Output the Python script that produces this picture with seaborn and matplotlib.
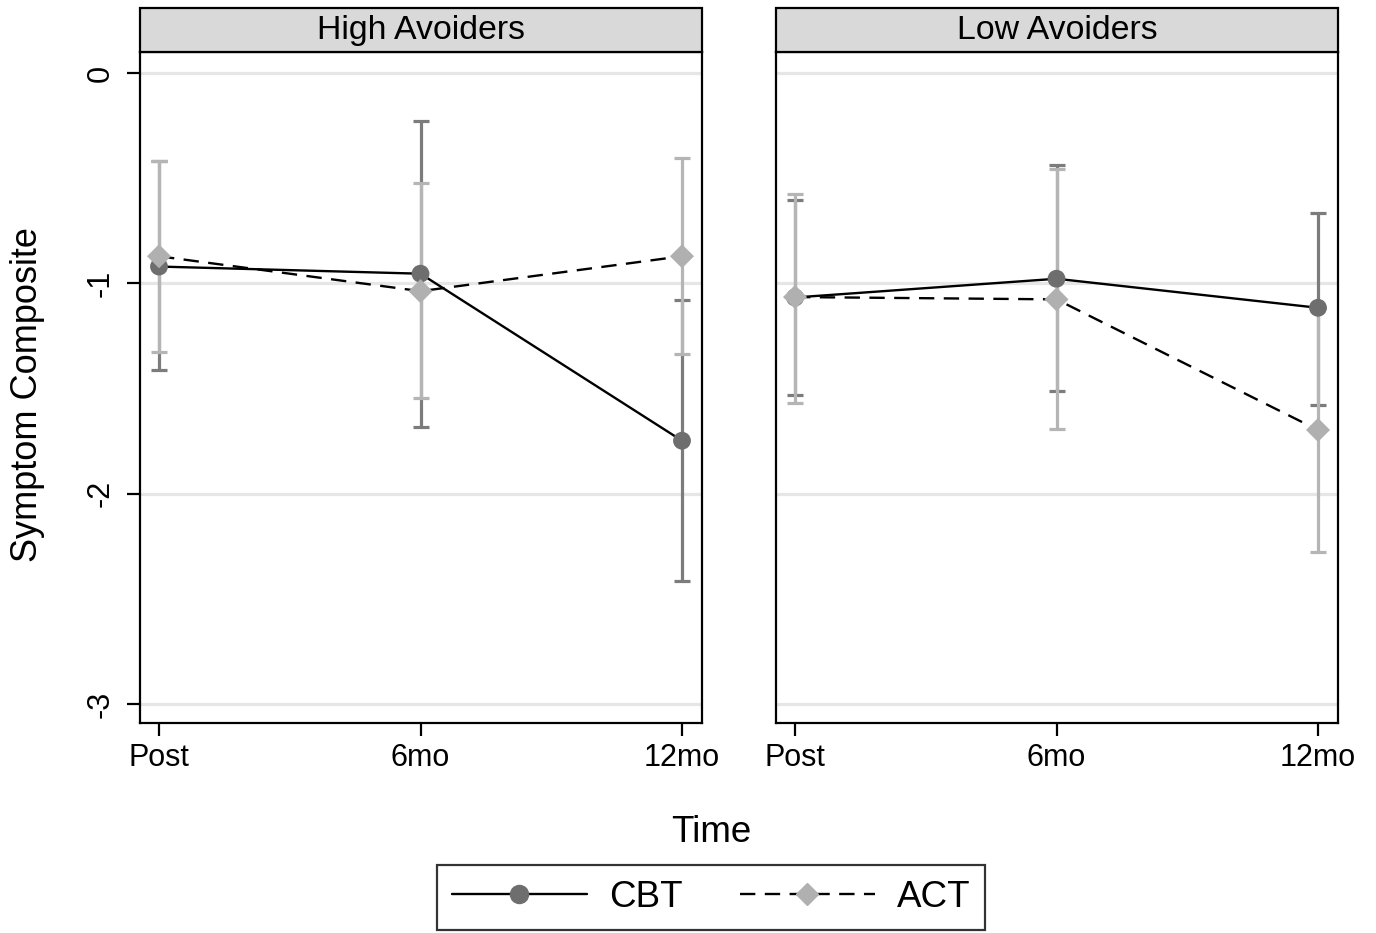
import matplotlib
matplotlib.use("Agg")
import matplotlib.pyplot as plt
from matplotlib.lines import Line2D
from matplotlib.patches import Rectangle
import seaborn as sns
import pandas as pd

# ---------------- data ----------------
times = ["Post", "6mo", "12mo"]
panels = ["High Avoiders", "Low Avoiders"]
treatments = ["CBT", "ACT"]

high_cbt_mean = [-0.920, -0.954, -1.748]
high_cbt_lo = [-1.414, -1.684, -2.414]
high_cbt_hi = [-0.420, -0.227, -1.081]

high_act_mean = [-0.871, -1.037, -0.871]
high_act_lo = [-1.324, -1.545, -1.335]
high_act_hi = [-0.420, -0.525, -0.406]

low_cbt_mean = [-1.067, -0.978, -1.116]
low_cbt_lo = [-1.533, -1.513, -1.576]
low_cbt_hi = [-0.602, -0.438, -0.665]

low_act_mean = [-1.065, -1.076, -1.697]
low_act_lo = [-1.568, -1.692, -2.279]
low_act_hi = [-0.573, -0.454, -1.115]

y_ticks = [0, -1, -2, -3]

rows = []
for panel, tr, m, lo, hi in [
    ("High Avoiders", "CBT", high_cbt_mean, high_cbt_lo, high_cbt_hi),
    ("High Avoiders", "ACT", high_act_mean, high_act_lo, high_act_hi),
    ("Low Avoiders", "CBT", low_cbt_mean, low_cbt_lo, low_cbt_hi),
    ("Low Avoiders", "ACT", low_act_mean, low_act_lo, low_act_hi),
]:
    for t, mv, lv, hv in zip(times, m, lo, hi):
        rows.append(dict(panel=panel, Treatment=tr, Time=t, mean=mv, lo=lv, hi=hv))
df = pd.DataFrame(rows)

# ---------------- style ----------------
sns.set_theme(style="white")
plt.rcParams["font.family"] = ["Liberation Sans", "DejaVu Sans"]
plt.rcParams["axes.unicode_minus"] = False
plt.rcParams["text.color"] = "black"
plt.rcParams["xtick.color"] = "black"
plt.rcParams["ytick.color"] = "black"
plt.rcParams["xtick.labelcolor"] = "black"
plt.rcParams["ytick.labelcolor"] = "black"

W, H = 1376, 933
fig = plt.figure(figsize=(W / 100, H / 100), dpi=100)

bar_col = {"CBT": "#7c7c7c", "ACT": "#b5b5b5"}
mk_col = {"CBT": "#6e6e6e", "ACT": "#b0b0b0"}
markers = {"CBT": "o", "ACT": "D"}
dash = (0, (6.5, 4.0))

ax_top_px, ax_bot_px = 52, 723
panel_x = [(140, 702), (776, 1338)]

axes = []
for i, panel in enumerate(panels):
    x0, x1 = panel_x[i]
    ax = fig.add_axes([x0 / W, 1 - ax_bot_px / H, (x1 - x0) / W, (ax_bot_px - ax_top_px) / H])
    axes.append(ax)
    sub = df[df.panel == panel]

    # grid lines
    for yv in y_ticks:
        ax.axhline(yv, color="#e6e6e6", lw=2.3, zorder=0.5)

    # error bars
    for k, tr in enumerate(treatments):
        s = sub[sub.Treatment == tr]
        ax.errorbar(s.Time, s["mean"],
                    yerr=[s["mean"] - s.lo, s.hi - s["mean"]],
                    fmt="none", ecolor=bar_col[tr], elinewidth=2.3,
                    capsize=6, capthick=2.3, zorder=2 + 0.1 * k)

    # lines
    sns.lineplot(data=sub, x="Time", y="mean", style="Treatment",
                 style_order=treatments, dashes={"CBT": "", "ACT": (6.5, 4.0)},
                 color="black", lw=1.7, sort=False, estimator=None,
                 legend=False, ax=ax, zorder=3)
    # markers
    for k, tr in enumerate(treatments):
        s = sub[sub.Treatment == tr]
        sns.scatterplot(data=s, x="Time", y="mean", marker=markers[tr],
                        color=mk_col[tr], s=165 if tr == "CBT" else 150,
                        edgecolor="none", linewidth=0, legend=False,
                        ax=ax, zorder=4 + k)

    ax.set_xlim(-0.0727, 2.0765)
    ax.set_ylim(-3.09, 0.1)
    ax.set_yticks(y_ticks)
    ax.set_xlabel("")
    ax.set_ylabel("")
    for sp in ax.spines.values():
        sp.set_visible(True)
        sp.set_color("black")
        sp.set_linewidth(1.6)
    ax.tick_params(axis="x", direction="out", length=9.5, width=1.6,
                   color="black", labelcolor="black", labelsize=22, pad=5,
                   bottom=True)
    if i == 0:
        ax.tick_params(axis="y", direction="out", length=9.5, width=1.6,
                       color="black", labelcolor="black", labelsize=22,
                       pad=8, left=True)
        for lab in ax.get_yticklabels():
            lab.set_rotation(90)
            lab.set_va("center")
    else:
        ax.tick_params(axis="y", left=False, labelleft=False)
    ax.grid(False)

    # strip
    h_ax = ax_bot_px - ax_top_px
    strip_h = 44 / h_ax
    ax.add_patch(Rectangle((0, 1), 1, strip_h, transform=ax.transAxes,
                           facecolor="#d9d9d9", edgecolor="black", lw=1.6,
                           clip_on=False, zorder=5))
    ax.text(0.5, 1 + strip_h / 2, panel, transform=ax.transAxes,
            ha="center", va="center", fontsize=24.4, color="black", zorder=6)

fig.text(28 / W, 1 - 395 / H, "Symptom Composite", rotation=90,
         ha="center", va="center", fontsize=26, color="black")
fig.text(711 / W, 1 - 832 / H, "Time", ha="center", va="center",
         fontsize=26.5, color="black")

handles = [
    Line2D([], [], color="black", lw=1.7, marker="o", markersize=13,
           markerfacecolor=mk_col["CBT"], markeredgecolor=mk_col["CBT"]),
    Line2D([], [], color="black", lw=1.7, linestyle=dash, marker="D",
           markersize=11.5, markerfacecolor=mk_col["ACT"], markeredgecolor=mk_col["ACT"]),
]
leg = fig.legend(handles, treatments, loc="center",
                 bbox_to_anchor=(711 / W, 1 - 897.5 / H), ncol=2,
                 fontsize=26.5, frameon=True, fancybox=False, handlelength=3.67,
                 handletextpad=0.6, columnspacing=1.55, borderpad=0.4,
                 labelcolor="black")
leg.get_frame().set_edgecolor("black")
leg.get_frame().set_linewidth(1.6)

fig.savefig("out.png", dpi=100, facecolor="white")
